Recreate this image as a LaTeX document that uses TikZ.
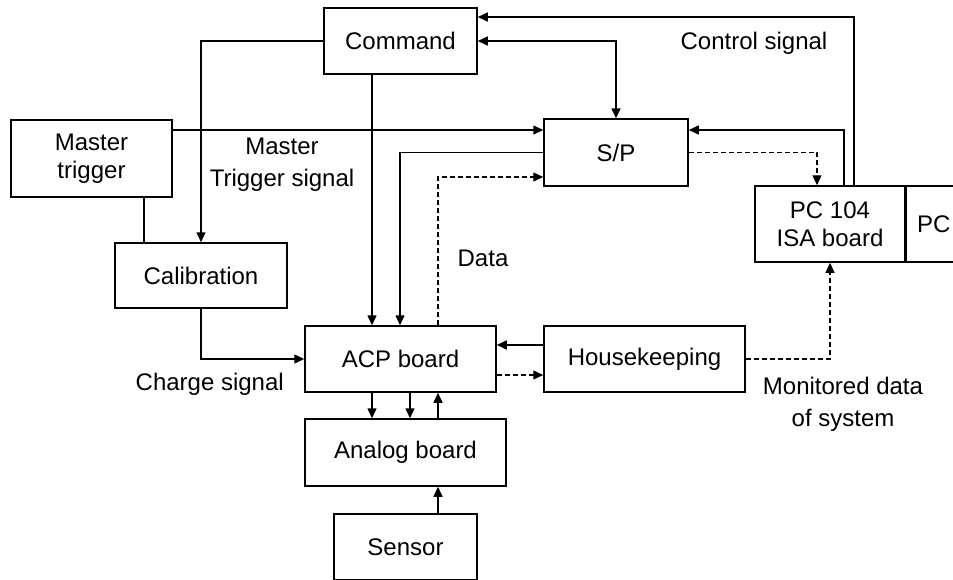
\documentclass[tikz,border=0pt]{standalone}
\usepackage{fontspec}
\setmainfont{Liberation Sans}
\usetikzlibrary{arrows.meta}
\begin{document}
\begin{tikzpicture}[x=1pt,y=-1pt,
  box/.style={draw,line width=1.5pt,inner sep=0pt,align=center,font=\fontsize{24}{28}\selectfont},
  lbl/.style={inner sep=0pt,align=center,font=\fontsize{24}{32}\selectfont},
  conn/.style={line width=1.5pt},
  arr/.style={conn,-{Triangle[length=10pt,width=9pt]}},
  arrb/.style={conn,{Triangle[length=10pt,width=9pt]}-{Triangle[length=10pt,width=9pt]}},
  darr/.style={line width=1.2pt,dash pattern=on 5pt off 3pt,-{Triangle[length=10pt,width=9pt]}}]
\useasboundingbox (0,0) rectangle (953,579);
\clip (0,0) rectangle (953,579);
\fill[white] (0,0) rectangle (953,579);

% boxes
\node[box,minimum width=153,minimum height=66] (cmd) at (400.5,41) {Command};
\node[box,minimum width=161,minimum height=77] (mt) at (91.5,158.5) {Master\\trigger};
\node[box,minimum width=172,minimum height=65] (cal) at (201,275.5) {Calibration};
\node[box,minimum width=144,minimum height=67] (sp) at (616,152.5) {S/P};
\node[box,minimum width=150,minimum height=76] (pc104) at (830,224) {PC 104\\ISA board};
\node[box,anchor=west,minimum width=56,minimum height=76] (pc) at (905,224) {PC};
\node[box,minimum width=191,minimum height=66] (acp) at (400.5,359) {ACP board};
\node[box,minimum width=201,minimum height=66] (hk) at (644.5,359) {Housekeeping};
\node[box,minimum width=201,minimum height=67] (ana) at (405.5,452.5) {Analog board};
\node[box,minimum width=143,minimum height=66] (sen) at (405.5,547) {Sensor};

% labels
\node[lbl] (lmt) at (282,165) {Master\\Trigger signal};
\node[lbl] (lctl) at (754,43) {Control signal};
\node[lbl] (ldata) at (483,258) {Data};
\node[lbl,anchor=east] (lchg) at (284,384) {Charge signal};
\node[lbl] (lmon) at (843,404) {Monitored data\\of system};

% connectors
\draw[arr] (pc104.north -| 854,0) |- (cmd.east |- 0,17);
\draw[arrb] (cmd.east) -| (sp.north);
\draw[arr] (cmd.west) -| (cal.north);
\draw[arr] (cmd.south -| 372,0) -- (acp.north -| 372,0);
\draw[arr] (mt.east |- 0,130) -- (sp.west |- 0,130);
\draw[conn] (mt.south -| 144,0) -- (cal.north -| 144,0);
\draw[arr] (sp.west) -| (acp.north -| 400,0);
\draw[darr] (acp.north -| 438,0) |- (sp.west |- 0,177);
\draw[darr] (sp.east) -| (pc104.north -| 817,0);
\draw[arr] (pc104.north -| 844,0) |- (sp.east |- 0,130);
\draw[arr] (cal.south) |- (acp.west);
\draw[arr] (hk.west |- 0,345) -- (acp.east |- 0,345);
\draw[darr] (acp.east |- 0,375) -- (hk.west |- 0,375);
\draw[darr] (hk.east) -| (pc104.south);
\draw[arr] (acp.south -| 372,0) -- (ana.north -| 372,0);
\draw[arr] (acp.south -| 410,0) -- (ana.north -| 410,0);
\draw[arr] (ana.north -| 438,0) -- (acp.south -| 438,0);
\draw[arr] (sen.north -| 438,0) -- (ana.south -| 438,0);
\end{tikzpicture}
\end{document}
